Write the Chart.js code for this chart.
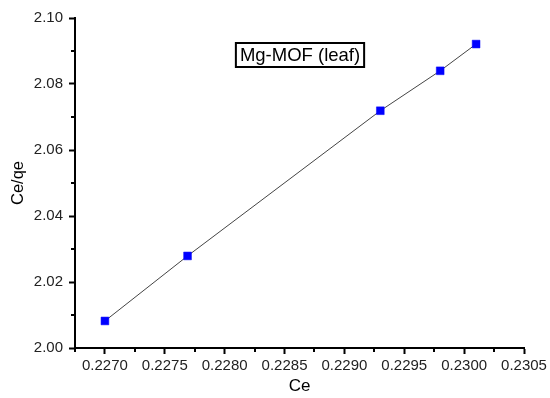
<!DOCTYPE html>
<html>
<head>
<meta charset="utf-8">
<script src="https://cdn.jsdelivr.net/npm/chart.js@4"></script>
<style>
  html, body { margin: 0; padding: 0; background: #fff; }
  #wrap { width: 550px; height: 398px; }
</style>
</head>
<body>
<div id="wrap"><canvas id="chart" width="550" height="398"></canvas></div>
<script>
// data
const ceValues = [0.2270, 0.22769, 0.2293, 0.2298, 0.2301];
const ceQeValues = [2.0082, 2.0279, 2.0719, 2.0840, 2.0921];

// axis ticks
const xTicks = [0.2270, 0.2275, 0.2280, 0.2285, 0.2290, 0.2295, 0.2300, 0.2305];
const xMinorTicks = [0.22675, 0.22725, 0.22775, 0.22825, 0.22875, 0.22925, 0.22975, 0.23025];
const yTicks = [2.00, 2.02, 2.04, 2.06, 2.08, 2.10];
const yMinorTicks = [2.01, 2.03, 2.05, 2.07, 2.09];

const titleText = 'Mg-MOF (leaf)';
const FONT = 'Arial, "Liberation Sans", sans-serif';

// minor ticks + boxed label inside the plot
const extras = {
    id: 'extras',
    afterDraw(chart) {
        const ctx = chart.ctx;
        const x = chart.scales.x;
        const y = chart.scales.y;
        const area = chart.chartArea;
        ctx.save();
        ctx.strokeStyle = '#000';
        ctx.lineWidth = 2;
        xMinorTicks.forEach(v => {
            const px = Math.round(x.getPixelForValue(v));
            ctx.beginPath();
            ctx.moveTo(px, area.bottom);
            ctx.lineTo(px, area.bottom + 4);
            ctx.stroke();
        });
        yMinorTicks.forEach(v => {
            const py = Math.round(y.getPixelForValue(v));
            ctx.beginPath();
            ctx.moveTo(area.left, py);
            ctx.lineTo(area.left - 4, py);
            ctx.stroke();
        });

        // label box
        ctx.font = '18.5px ' + FONT;
        const w = ctx.measureText(titleText).width;
        const cx = 300, cy = 55;
        ctx.lineWidth = 2;
        ctx.strokeRect(cx - w / 2 - 4, cy - 12, w + 8, 24);
        ctx.fillStyle = '#000';
        ctx.textAlign = 'center';
        ctx.textBaseline = 'middle';
        ctx.fillText(titleText, cx, cy + 1);
        ctx.restore();
    }
};

const ctx = document.getElementById('chart').getContext('2d');
new Chart(ctx, {
    type: 'scatter',
    data: {
        datasets: [{
            data: ceValues.map((v, i) => ({ x: v, y: ceQeValues[i] })),
            showLine: true,
            borderColor: '#444',
            borderWidth: 1,
            pointStyle: 'rect',
            pointRadius: 5.5,
            pointHoverRadius: 5.5,
            pointBackgroundColor: '#0000ff',
            pointBorderColor: '#0000ff',
            pointBorderWidth: 0.5
        }]
    },
    options: {
        responsive: false,
        animation: false,
        devicePixelRatio: 1,
        layout: {
            padding: { top: 18, right: 26, left: 0, bottom: 0 }
        },
        plugins: {
            legend: { display: false },
            tooltip: { enabled: false }
        },
        scales: {
            x: {
                type: 'linear',
                min: 0.22675,
                max: 0.2305,
                afterBuildTicks: axis => {
                    axis.ticks = xTicks.map(v => ({ value: v }));
                },
                afterFit: axis => { axis.height = 50; },
                border: { display: true, color: '#000', width: 2 },
                grid: {
                    drawOnChartArea: false,
                    drawTicks: true,
                    tickLength: 6,
                    tickWidth: 2,
                    tickColor: '#000'
                },
                ticks: {
                    autoSkip: false,
                    maxRotation: 0,
                    padding: 3,
                    color: '#222',
                    font: { family: FONT, size: 15 },
                    callback: v => v.toFixed(4)
                },
                title: {
                    display: true,
                    text: 'Ce',
                    color: '#000',
                    font: { family: FONT, size: 17 },
                    padding: { top: 0, bottom: 1 }
                }
            },
            y: {
                type: 'linear',
                min: 2.00,
                max: 2.10,
                afterBuildTicks: axis => {
                    axis.ticks = yTicks.map(v => ({ value: v }));
                },
                afterFit: axis => { axis.width = 75; },
                border: { display: true, color: '#000', width: 2 },
                grid: {
                    drawOnChartArea: false,
                    drawTicks: true,
                    tickLength: 6,
                    tickWidth: 2,
                    tickColor: '#000'
                },
                ticks: {
                    autoSkip: false,
                    padding: 6,
                    color: '#222',
                    font: { family: FONT, size: 15 },
                    callback: v => v.toFixed(2)
                },
                title: {
                    display: true,
                    text: 'Ce/qe',
                    color: '#000',
                    font: { family: FONT, size: 16.5 },
                    padding: { top: 9, bottom: 0 }
                }
            }
        }
    },
    plugins: [extras]
});
</script>
</body>
</html>
